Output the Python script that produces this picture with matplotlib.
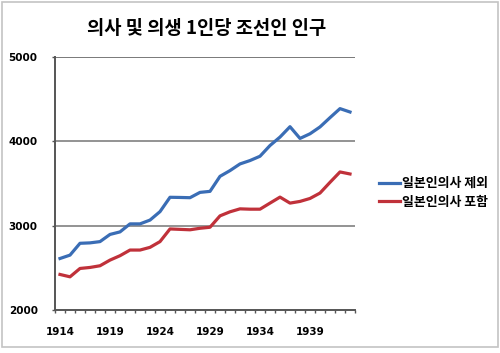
import numpy as np
import matplotlib
matplotlib.use("Agg")
import matplotlib.pyplot as plt
from matplotlib.patches import Rectangle

plt.rcParams['font.family'] = ['Noto Sans CJK KR', 'DejaVu Sans']

# data
years = list(range(1914, 1944))
excl_japanese = [2610, 2650, 2790, 2795, 2810, 2895, 2925, 3020, 3020, 3065,
                 3165, 3335, 3333, 3330, 3393, 3405, 3583, 3651, 3730, 3770,
                 3821, 3948, 4048, 4171, 4032, 4087, 4168, 4278, 4385, 4345]
incl_japanese = [2421, 2393, 2492, 2504, 2524, 2591, 2643, 2710, 2710, 2742,
                 2810, 2960, 2955, 2950, 2968, 2980, 3115, 3163, 3198, 3194,
                 3194, 3266, 3337, 3266, 3286, 3321, 3385, 3512, 3635, 3611]
series_names = ['일본인의사 제외', '일본인의사 포함']
y_ticks = [2000, 3000, 4000, 5000]
title = '의사 및 의생 1인당 조선인 인구'

fig = plt.figure(figsize=(5.0, 3.53), dpi=100)
fig.patches.append(Rectangle((2 / 500, 6 / 353), 496 / 500, 345 / 353,
                             transform=fig.transFigure, fill=False,
                             edgecolor='#c4c4c4', linewidth=1.2))

ax = fig.add_axes([0.11, 0.1218, 0.60, 0.7176])
x = np.arange(len(years))

ax.plot(x, excl_japanese, color='#3a6db5', linewidth=2.3, label=series_names[0],
        solid_joinstyle='round', zorder=3)
ax.plot(x, incl_japanese, color='#c0313a', linewidth=2.3, label=series_names[1],
        solid_joinstyle='round', zorder=3)

ax.set_xlim(-0.5, len(years) - 0.5)
ax.set_ylim(2000, 5000)

# gridlines
for v in y_ticks[1:]:
    ax.axhline(v, color='#6e6e6e' if v == 5000 else '#8a8a8a',
               linewidth=1.3, zorder=1)

for side in ['top', 'right']:
    ax.spines[side].set_visible(False)
ax.spines['left'].set_color('#555555')
ax.spines['left'].set_linewidth(1.4)
ax.spines['bottom'].set_color('#555555')
ax.spines['bottom'].set_linewidth(1.4)

ax.set_yticks(y_ticks)
ax.set_yticklabels([str(v) for v in y_ticks], fontfamily='DejaVu Sans',
                   fontweight='bold', fontsize=7.5)
ax.tick_params(axis='y', length=2.5, width=1, color='#555555', pad=10)

label_idx = list(range(0, len(years), 5))
ax.set_xticks(label_idx)
ax.set_xticklabels([str(years[i]) for i in label_idx], fontfamily='DejaVu Sans',
                   fontweight='bold', fontsize=7.5)
ax.tick_params(axis='x', which='major', length=0, pad=12)
ax.set_xticks(np.arange(-0.5, len(years)), minor=True)
ax.tick_params(axis='x', which='minor', length=2.5, width=1, color='#555555')

fig.text(0.414, 0.92, title, ha='center', va='center', fontsize=13.5,
         fontweight='bold')

fig.legend(loc='center left', bbox_to_anchor=(0.757, 0.455), frameon=False,
           handlelength=1.7, handletextpad=0.1, labelspacing=0.35,
           borderpad=0, borderaxespad=0,
           prop={'family': ['Noto Sans CJK KR'], 'weight': 'bold', 'size': 9.3})

fig.savefig('out.png', dpi=100)
